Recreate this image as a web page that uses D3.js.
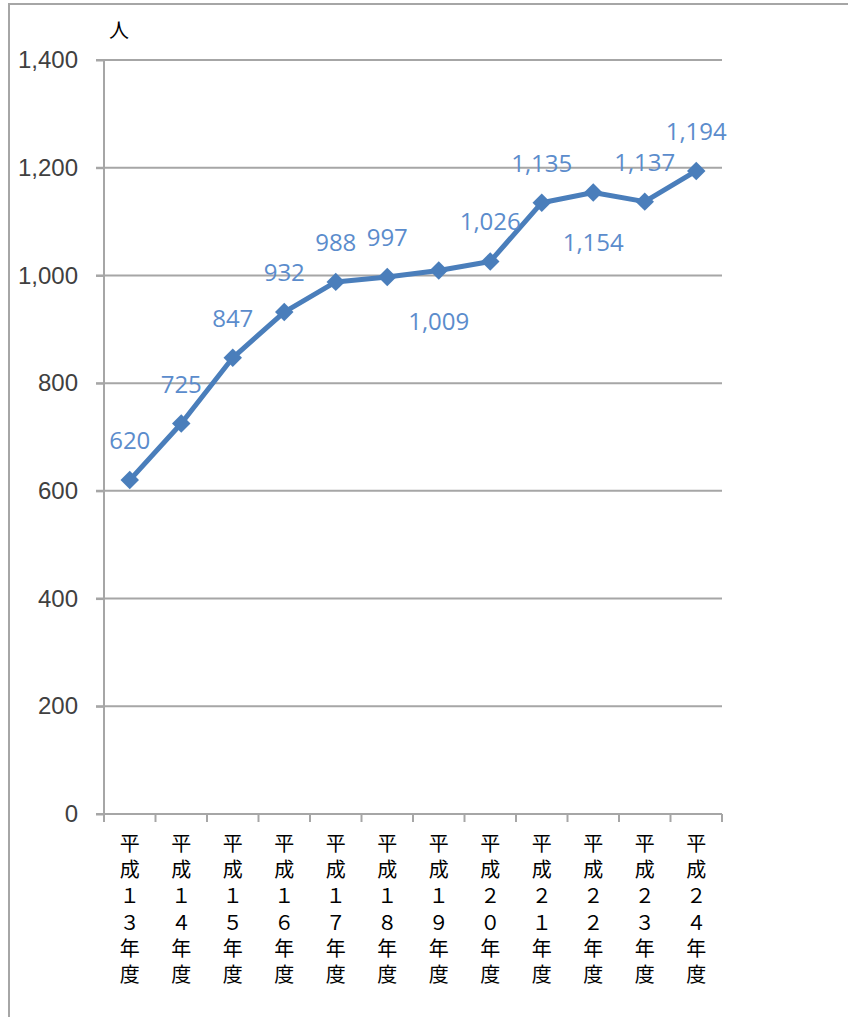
<!DOCTYPE html>
<html>
<head>
<meta charset="utf-8">
<script src="https://cdn.jsdelivr.net/npm/d3@7"></script>
<style>
  body { margin: 0; background: #fff; }
  svg { display: block; font-family: "Open Sans", "Noto Sans", sans-serif; }
</style>
</head>
<body>
<div id="wrapper"></div>
<script>
// data
const years = ["13", "14", "15", "16", "17", "18", "19", "20", "21", "22", "23", "24"]
const people = [620, 725, 847, 932, 988, 997, 1009, 1026, 1135, 1154, 1137, 1194]
const labelSide = ["up", "up", "up", "up", "up", "up", "down", "up", "up", "down", "up", "up"]
const yTicks = [0, 200, 400, 600, 800, 1000, 1200, 1400]
const unitLabel = "人"

const toFullWidth = s => s.replace(/[0-9]/g, c => String.fromCharCode(c.charCodeAt(0) + 0xFEE0))
const categories = years.map(y => "平成" + toFullWidth(y) + "年度")

// dimensions
const dimensions = {
  width: 848,
  height: 1017,
  margins: { top: 60, right: 126, bottom: 203, left: 104 },
}
dimensions.boundedWidth = dimensions.width - dimensions.margins.left - dimensions.margins.right
dimensions.boundedHeight = dimensions.height - dimensions.margins.top - dimensions.margins.bottom

const wrapper = d3.select("#wrapper")
  .append("svg")
  .attr("width", dimensions.width)
  .attr("height", dimensions.height)

// outer frame (top and left edges visible)
wrapper.append("path")
  .attr("d", `M9,1017 V4 H848`)
  .attr("fill", "none")
  .attr("stroke", "#a6a6a6")
  .attr("stroke-width", 2)

const bounds = wrapper.append("g")
  .attr("transform", `translate(${dimensions.margins.left},${dimensions.margins.top})`)

// scales
const xScale = d3.scaleBand()
  .domain(categories)
  .range([0, dimensions.boundedWidth])

const yScale = d3.scaleLinear()
  .domain([0, 1400])
  .range([dimensions.boundedHeight, 0])

const gridColor = "#a6a6a6"

// gridlines
bounds.append("g")
  .selectAll("line")
  .data(yTicks.filter(d => d > 0))
  .join("line")
  .attr("x1", -8)
  .attr("x2", dimensions.boundedWidth)
  .attr("y1", d => yScale(d))
  .attr("y2", d => yScale(d))
  .attr("stroke", gridColor)
  .attr("stroke-width", 2)

// y axis
const yAxis = bounds.append("g")
  .call(d3.axisLeft(yScale).tickValues(yTicks).tickSize(8).tickPadding(18)
    .tickFormat(d3.format(",")))
yAxis.select(".domain").attr("stroke", gridColor).attr("stroke-width", 2)
  .attr("d", `M0,0 V${dimensions.boundedHeight}`)
yAxis.selectAll(".tick line").attr("stroke", gridColor).attr("stroke-width", 2)
yAxis.selectAll(".tick text")
  .attr("fill", "#404040")
  .style("font-size", "24px")

// x axis
const xAxis = bounds.append("g")
  .attr("transform", `translate(0,${dimensions.boundedHeight})`)
  .call(d3.axisBottom(xScale).tickSize(0).tickFormat(""))
xAxis.select(".domain").remove()
xAxis.append("line")
  .attr("x1", -8).attr("x2", dimensions.boundedWidth)
  .attr("stroke", gridColor).attr("stroke-width", 2)
xAxis.selectAll(".edge")
  .data(d3.range(categories.length + 1))
  .join("line")
  .attr("class", "edge")
  .attr("x1", i => i * xScale.step())
  .attr("x2", i => i * xScale.step())
  .attr("y1", 0).attr("y2", 8)
  .attr("stroke", gridColor).attr("stroke-width", 2)

// vertical category labels
const catLabels = xAxis.selectAll(".cat")
  .data(categories)
  .join("text")
  .attr("class", "cat")
  .attr("x", d => xScale(d) + xScale.bandwidth() / 2)
  .attr("y", 37)
  .attr("text-anchor", "middle")
  .attr("fill", "#000")
  .style("font-family", "'Noto Sans CJK JP', sans-serif")
  .style("font-size", "20px")
catLabels.selectAll("tspan")
  .data(d => Array.from(d))
  .join("tspan")
  .attr("x", function () { return d3.select(this.parentNode).attr("x") })
  .attr("dy", (d, i) => i === 0 ? 0 : 26.2)
  .text(d => d)

// unit label
wrapper.append("text")
  .attr("x", 119)
  .attr("y", 38)
  .attr("text-anchor", "middle")
  .attr("fill", "#000")
  .style("font-family", "'Noto Sans CJK JP', sans-serif")
  .style("font-size", "20px")
  .text(unitLabel)

// line
const points = categories.map((c, i) => ({ c, v: people[i], side: labelSide[i] }))
const xAcc = d => xScale(d.c) + xScale.bandwidth() / 2
const yAcc = d => yScale(d.v)

const lineColor = "#4a7ebb"

bounds.append("path")
  .attr("d", d3.line().x(xAcc).y(yAcc)(points))
  .attr("fill", "none")
  .attr("stroke", lineColor)
  .attr("stroke-width", 5)
  .attr("stroke-linejoin", "round")

bounds.append("g")
  .selectAll("path")
  .data(points)
  .join("path")
  .attr("d", d3.symbol(d3.symbolSquare, 170))
  .attr("transform", d => `translate(${xAcc(d)},${yAcc(d)}) rotate(45)`)
  .attr("fill", lineColor)

// data labels
bounds.append("g")
  .selectAll("text")
  .data(points)
  .join("text")
  .attr("x", xAcc)
  .attr("y", d => yAcc(d) + (d.side === "up" ? -31 : 59))
  .attr("text-anchor", "middle")
  .attr("fill", "#5b8ccc")
  .style("font-size", "24px")
  .text(d => d3.format(",")(d.v))
</script>
</body>
</html>
